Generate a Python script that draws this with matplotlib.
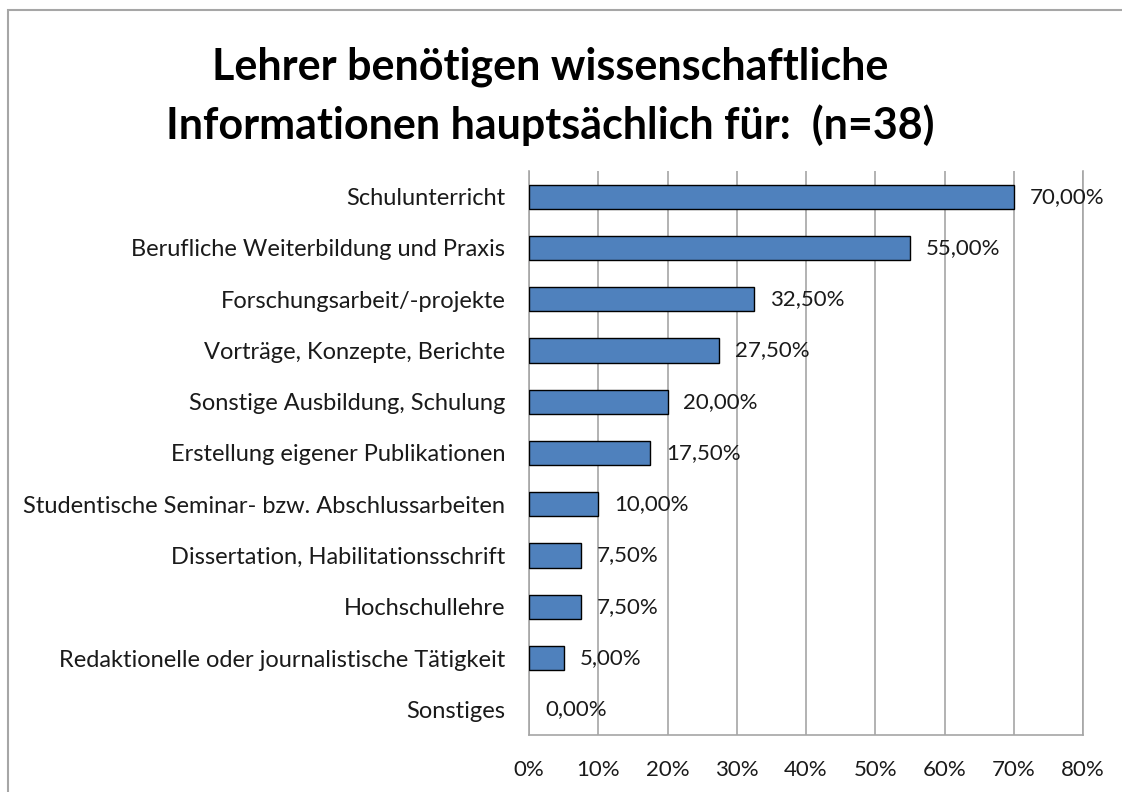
import matplotlib
matplotlib.use("Agg")
import matplotlib.pyplot as plt
from matplotlib.patches import Rectangle
from matplotlib.ticker import FuncFormatter

# Daten
kategorien = [
    "Schulunterricht",
    "Berufliche Weiterbildung und Praxis",
    "Forschungsarbeit/-projekte",
    "Vorträge, Konzepte, Berichte",
    "Sonstige Ausbildung, Schulung",
    "Erstellung eigener Publikationen",
    "Studentische Seminar- bzw. Abschlussarbeiten",
    "Dissertation, Habilitationsschrift",
    "Hochschullehre",
    "Redaktionelle oder journalistische Tätigkeit",
    "Sonstiges",
]
werte = [70.0, 55.0, 32.5, 27.5, 20.0, 17.5, 10.0, 7.5, 7.5, 5.0, 0.0]
x_ticks = [0, 10, 20, 30, 40, 50, 60, 70, 80]

plt.rcParams['font.family'] = ['Lato', 'DejaVu Sans']

fig = plt.figure(figsize=(11.22, 7.92), dpi=100)
ax = fig.add_axes([529 / 1122, 1 - 735 / 792, 554 / 1122, 564 / 792])

# Rahmen um das Diagramm
fig.patches.append(Rectangle((8 / 1122, -0.1), 1.2, 1 - 10 / 792 + 0.1,
                             transform=fig.transFigure, fill=False,
                             edgecolor='#a6a6a6', linewidth=1.5))

pos = list(range(len(kategorien)))
ax.barh(pos, werte, height=0.47, color='#4F81BD', edgecolor='black',
        linewidth=[1.0 if w > 0 else 0 for w in werte], zorder=3)

for p, w in zip(pos, werte):
    ax.text(w + 2.3, p, f"{w:.2f}%".replace('.', ','), va='center',
            ha='left', fontsize=16, color='#1a1a1a', zorder=4)

ax.set_xlim(0, 80)
ax.set_ylim(len(kategorien) - 0.5, -0.5)
ax.set_xticks(x_ticks)
ax.xaxis.set_major_formatter(FuncFormatter(lambda v, _: f"{int(v)}%"))
ax.set_yticks(pos)
ax.set_yticklabels(kategorien)
ax.tick_params(axis='both', length=0, labelsize=17, colors='#1a1a1a')
ax.tick_params(axis='x', pad=18, labelsize=16)
ax.tick_params(axis='y', pad=17)

ax.grid(axis='x', color='#a6a6a6', linewidth=1.2, zorder=0)
ax.spines['top'].set_visible(False)
for s in ['left', 'bottom', 'right']:
    ax.spines[s].set_color('#a6a6a6')
    ax.spines[s].set_linewidth(1.2)

fig.text(550 / 1122, 1 - 67 / 792, "Lehrer benötigen wissenschaftliche",
         ha='center', va='center', fontsize=31, fontweight='bold')
fig.text(550 / 1122, 1 - 125 / 792, "Informationen hauptsächlich für:  (n=38)",
         ha='center', va='center', fontsize=31, fontweight='bold')

fig.savefig("out.png", dpi=100, facecolor='white')
